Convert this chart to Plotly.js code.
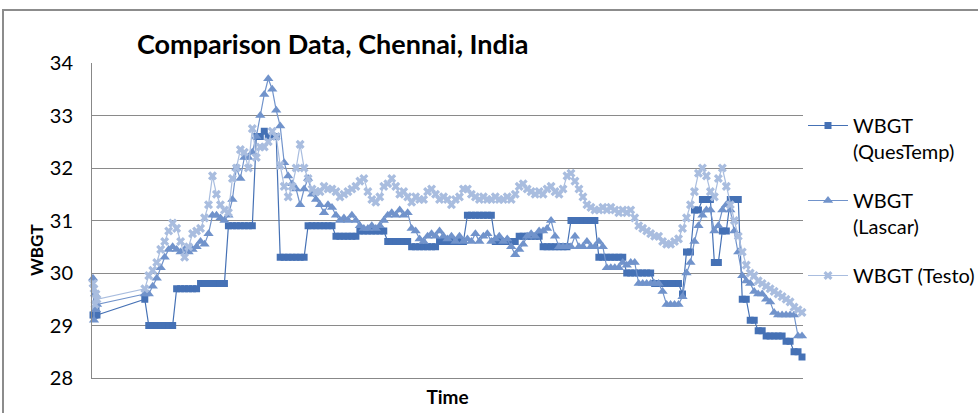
<!DOCTYPE html>
<html><head><meta charset="utf-8">
<script src="https://cdn.plot.ly/plotly-3.0.1.min.js"></script>
<style>html,body{margin:0;padding:0;background:#fff}#chart{width:978px;height:413px}</style>
</head><body><div id="chart"></div>
<script>
// Sample rows (category index along the "Time" axis); rows 5..51 are empty cells
const initRows = [0, 1, 2, 3, 4];
const mainStart = 52, mainStep = 4, mainCount = 166;

// WBGT (QuesTemp)
const questempInit = [29.2, 29.2, 29.2, 29.3, 29.2];
const questemp = [
29.5,29.0,29.0,29.0,29.0,29.0,29.0,29.0,29.7,29.7,
29.7,29.7,29.7,29.7,29.8,29.8,29.8,29.8,29.8,29.8,
29.8,30.9,30.9,30.9,30.9,30.9,30.9,30.9,32.6,32.6,
32.7,32.6,32.6,32.6,30.3,30.3,30.3,30.3,30.3,30.3,
30.3,30.9,30.9,30.9,30.9,30.9,30.9,30.9,30.7,30.7,
30.7,30.7,30.7,30.7,30.8,30.8,30.8,30.8,30.8,30.8,
30.8,30.6,30.6,30.6,30.6,30.6,30.6,30.5,30.5,30.5,
30.5,30.5,30.5,30.5,30.6,30.6,30.6,30.6,30.6,30.6,
30.6,31.1,31.1,31.1,31.1,31.1,31.1,31.1,30.6,30.6,
30.6,30.6,30.6,30.6,30.7,30.7,30.7,30.7,30.7,30.7,
30.5,30.5,30.5,30.5,30.5,30.5,30.5,31.0,31.0,31.0,
31.0,31.0,31.0,31.0,30.3,30.3,30.3,30.3,30.3,30.3,
30.3,30.0,30.0,30.0,30.0,30.0,30.0,30.0,29.8,29.8,
29.8,29.8,29.8,29.8,29.8,29.6,30.4,30.4,31.2,31.2,
31.4,31.4,31.4,30.2,30.2,30.8,30.8,31.4,31.4,31.4,
29.5,29.5,29.1,29.1,28.9,28.9,28.8,28.8,28.8,28.8,
28.8,28.7,28.7,28.5,28.5,28.4];

// WBGT (Lascar)
const lascarInit = [29.9, 29.1, 29.6, 29.3, 29.4];
const lascar = [
29.6,29.6,29.75,29.9,30.1,30.3,30.45,30.5,30.45,30.4,
30.45,30.4,30.45,30.5,30.6,30.55,30.75,31.1,31.1,31.05,
31.0,31.1,31.4,32.0,31.8,32.2,32.2,32.3,32.6,33.0,
33.4,33.7,33.5,33.1,32.8,32.1,31.85,31.7,31.6,31.3,
31.6,31.8,31.5,31.4,31.3,31.15,31.3,31.25,31.1,31.0,
31.05,31.0,31.1,31.0,30.9,30.85,30.85,30.9,30.85,30.9,
31.0,31.1,31.15,31.1,31.2,31.1,31.15,30.85,30.8,30.65,
30.6,30.7,30.75,30.7,30.8,30.7,30.65,30.7,30.6,30.7,
30.6,30.65,30.6,30.75,30.6,30.7,30.75,30.6,30.65,30.7,
30.6,30.65,30.5,30.35,30.45,30.55,30.7,30.75,30.7,30.8,
30.8,30.85,31.0,30.7,30.5,30.5,30.5,30.5,30.7,30.5,
30.5,30.6,30.5,30.5,30.6,30.5,30.1,30.1,30.1,30.1,
30.2,30.15,30.2,30.2,29.8,29.8,29.8,29.8,29.8,29.8,
29.65,29.4,29.4,29.4,29.4,29.55,30.0,30.2,30.6,30.9,
31.1,31.2,31.2,30.8,30.9,31.2,31.3,31.2,30.8,30.4,
29.95,29.85,29.8,29.65,29.6,29.6,29.5,29.45,29.25,29.2,
29.2,29.2,29.2,29.2,28.8,28.8];

// WBGT (Testo)
const testoInit = [29.8, 29.7, 29.4, 29.6, 29.5];
const testo = [
29.7,29.95,30.05,30.2,30.45,30.6,30.8,30.95,30.85,30.6,
30.3,30.5,30.75,30.8,30.85,31.05,31.3,31.85,31.5,31.3,
31.2,31.15,31.8,32.0,32.35,32.3,32.0,32.75,32.2,32.4,
32.4,32.5,32.7,32.6,32.05,31.65,31.45,31.65,32.0,32.45,
32.0,31.8,31.6,31.55,31.55,31.65,31.6,31.6,31.55,31.45,
31.5,31.55,31.6,31.65,31.75,31.8,31.55,31.4,31.35,31.45,
31.65,31.7,31.8,31.65,31.5,31.55,31.45,31.35,31.45,31.4,
31.4,31.55,31.6,31.5,31.4,31.45,31.4,31.3,31.4,31.45,
31.6,31.6,31.5,31.45,31.4,31.45,31.4,31.4,31.45,31.4,
31.4,31.45,31.4,31.5,31.65,31.7,31.6,31.55,31.5,31.55,
31.5,31.6,31.65,31.55,31.5,31.6,31.85,31.9,31.75,31.6,
31.45,31.3,31.25,31.2,31.2,31.25,31.2,31.25,31.2,31.15,
31.2,31.15,31.2,31.05,30.9,30.85,30.8,30.75,30.7,30.7,
30.6,30.55,30.55,30.6,30.65,30.85,31.05,31.3,31.55,31.9,
32.0,31.85,31.55,31.45,31.8,32.0,31.65,31.3,31.0,30.7,
30.4,30.15,30.0,29.95,29.85,29.8,29.75,29.7,29.65,29.6,
29.55,29.5,29.45,29.35,29.3,29.25];

const yTicks = [28, 29, 30, 31, 32, 33, 34];

const rows = initRows.slice();
for (let i = 0; i < mainCount; i++) rows.push(mainStart + i * mainStep);

const cQ = '#4571B5', cL = '#7193CB', cT = '#A9BDDF';
const font = 'Lato, "Open Sans", sans-serif';

const traces = [
  {x: rows, y: questempInit.concat(questemp), name: 'WBGT<br>(QuesTemp)', mode: 'lines+markers', cliponaxis: false,
   line: {color: cQ, width: 1.2}, marker: {symbol: 'square', size: 7, color: cQ}, legendgroup: 'a'},
  {x: rows, y: lascarInit.concat(lascar), name: 'WBGT<br>(Lascar)', mode: 'lines+markers', cliponaxis: false,
   line: {color: cL, width: 1.2}, marker: {symbol: 'triangle-up', size: 9, color: cL}, legendgroup: 'b'},
  {x: rows, y: testoInit.concat(testo), name: 'WBGT (Testo)', mode: 'lines+markers', cliponaxis: false,
   line: {color: cT, width: 1.2}, marker: {symbol: 'x', size: 8, color: cT}, legendgroup: 'c'}
];

const layout = {
  width: 978, height: 413,
  margin: {l: 92, r: 175, t: 63, b: 35, autoexpand: false},
  paper_bgcolor: '#fff', plot_bgcolor: '#fff',
  font: {family: font, color: '#000', size: 20},
  showlegend: true,
  title: {text: '<b>Comparison Data, Chennai, India</b>', font: {family: font, size: 27, color: '#000'},
          xref: 'container', yref: 'container', x: 137/978, xanchor: 'left', y: 1 - 45/413, yanchor: 'middle'},
  xaxis: {range: [-1, 713], showticklabels: false, showgrid: false, zeroline: false,
          showline: true, linecolor: '#888', linewidth: 1, ticks: '',
          title: {text: '<b>Time</b>', font: {family: font, size: 19}, standoff: 12}},
  yaxis: {range: [28, 34], tickvals: yTicks, ticktext: yTicks.map(String), showgrid: true, gridcolor: '#8a8a8a', gridwidth: 1,
          zeroline: false, showline: true, linecolor: '#888', linewidth: 1, ticks: '',
          ticklabelstandoff: 14, tickfont: {family: font, size: 20}},
  legend: {x: (803-92)/711, y: (378-106)/315, xanchor: 'left', yanchor: 'top', valign: 'top',
           font: {family: font, size: 20}, bgcolor: 'rgba(0,0,0,0)', tracegroupgap: 20, itemwidth: 40},
  annotations: [{text: '<b>WBGT</b>', textangle: -90, xref: 'paper', yref: 'paper', xanchor: 'center', yanchor: 'middle',
                 x: (36-92)/711, y: (378-250)/315, showarrow: false, font: {family: font, size: 17}}],
  shapes: [{type: 'rect', xref: 'paper', yref: 'paper', x0: (3-92)/711, x1: 2, y0: -1, y1: (378-10)/315,
            line: {color: '#8c8c8c', width: 2}, layer: 'below'}]
};

Plotly.newPlot('chart', traces, layout, {staticPlot: true});
</script>
</body></html>
